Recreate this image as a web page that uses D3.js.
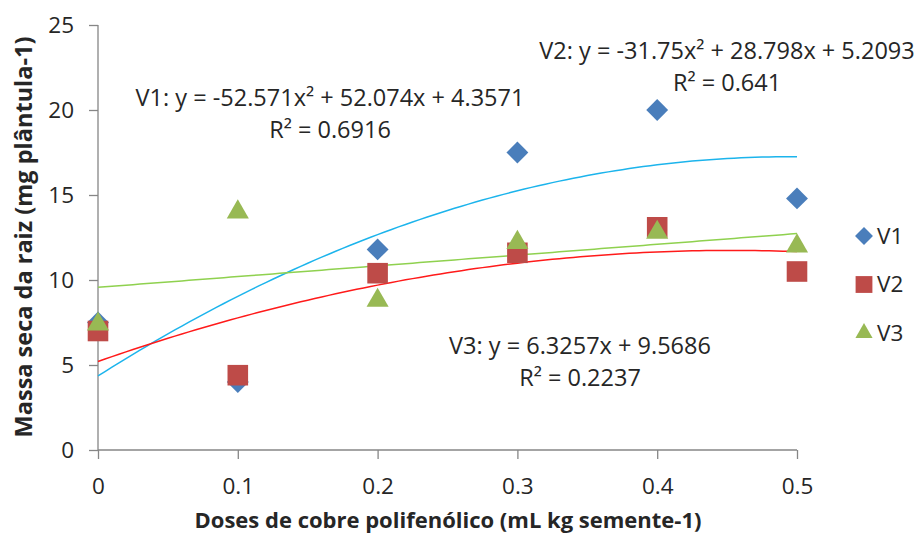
<!DOCTYPE html>
<html>
<head>
<meta charset="utf-8">
<script src="https://cdn.jsdelivr.net/npm/d3@7"></script>
<style>
  body { margin: 0; background: #fff; }
  svg text { font-family: "Open Sans", sans-serif; fill: #262626; }
</style>
</head>
<body>
<svg id="chart" width="920" height="536"></svg>
<script>
const doses = [0, 0.1, 0.2, 0.3, 0.4, 0.5]
const v1 = [7.5, 4.0, 11.8, 17.5, 20.0, 14.8]
const v2 = [7.0, 4.4, 10.4, 11.6, 13.1, 10.5]
const v3 = [7.4, 14.0, 8.8, 12.2, 12.8, 12.0]
const seriesNames = ['V1', 'V2', 'V3']
// trend coefficients [a, b, c] for y = a*x^2 + b*x + c
const fit1 = [-52.571, 52.074, 4.3571]
const fit2 = [-31.75, 28.798, 5.2093]
const fit3 = [0, 6.3257, 9.5686]
const xTicks = [0, 0.1, 0.2, 0.3, 0.4, 0.5]
const yTicks = [0, 5, 10, 15, 20, 25]

const svg = d3.select('#chart')
const m = { left: 98, top: 25, right: 123, bottom: 86 }
const w = 920 - m.left - m.right
const h = 536 - m.top - m.bottom

const x = d3.scaleLinear().domain([0, 0.5]).range([m.left, m.left + w])
const y = d3.scaleLinear().domain([0, 25]).range([m.top + h, m.top])

const axisColor = '#868686'

const xAxis = d3.axisBottom(x).tickValues(xTicks).tickSize(9).tickPadding(19)
  .tickFormat(d => d === 0 ? '0' : d3.format('.1f')(d))
const yAxis = d3.axisLeft(y).tickValues(yTicks).tickSize(9).tickPadding(15)

const gx = svg.append('g').attr('transform', `translate(0,${m.top + h})`).call(xAxis)
const gy = svg.append('g').attr('transform', `translate(${m.left},0)`).call(yAxis)
;[gx, gy].forEach(g => {
  g.selectAll('path, line').attr('stroke', axisColor).attr('stroke-width', 1.3)
  g.selectAll('text').style('font-size', '22.5px').attr('fill', '#262626')
})
gx.select('.domain').attr('d', `M${x(0)},0H${x(0.5)}`)
gy.select('.domain').attr('d', `M0,${y(0)}V${y(25)}`)

// axis titles
svg.append('text')
  .attr('x', 448).attr('y', 528)
  .attr('text-anchor', 'middle')
  .style('font-size', '22px').style('font-weight', 'bold')
  .text('Doses de cobre polifenólico (mL kg semente-1)')
svg.append('text')
  .attr('transform', 'translate(32,237) rotate(-90)')
  .attr('text-anchor', 'middle')
  .style('font-size', '23.5px').style('font-weight', 'bold')
  .text('Massa seca da raiz (mg plântula-1)')

// trend lines
const xs = d3.range(0, 0.5001, 0.005)
const trend = (c, color) => {
  const line = d3.line()
    .x(d => x(d))
    .y(d => y(c[0] * d * d + c[1] * d + c[2]))
  svg.append('path')
    .attr('d', line(xs))
    .attr('fill', 'none')
    .attr('stroke', color)
    .attr('stroke-width', 1.5)
}
trend(fit1, '#1cb4ec')
trend(fit2, '#ff1a1a')
trend(fit3, '#8fd14f')

const colors = ['#4a7ebb', '#be4b48', '#98b954']
const symbols = [d3.symbolDiamond2, d3.symbolSquare2, d3.symbolTriangle2]
const sizes = [305, 540, 350]
const legendSizes = [205, 360, 210]
const allSeries = [v1, v2, v3]

allSeries.forEach((vals, i) => {
  svg.append('g').selectAll('path')
    .data(vals)
    .join('path')
    .attr('transform', (d, j) => `translate(${x(doses[j])},${y(d)})`)
    .attr('d', d3.symbol().type(symbols[i]).size(sizes[i]))
    .attr('fill', colors[i])
})

// legend
const legend = svg.append('g')
seriesNames.forEach((name, i) => {
  const ly = 236 + i * 48.5
  legend.append('path')
    .attr('transform', `translate(864,${ly})`)
    .attr('d', d3.symbol().type(symbols[i]).size(legendSizes[i]))
    .attr('fill', colors[i])
  legend.append('text')
    .attr('x', 877).attr('y', ly)
    .attr('dy', '0.35em')
    .style('font-size', '22.5px')
    .text(name)
})

// equation labels
const labels = [
  { cx: 330, cy: 98, eq: 'V1: y = -52.571x² + 52.074x + 4.3571', r2: 'R² = 0.6916' },
  { cx: 727, cy: 51, eq: 'V2: y = -31.75x² + 28.798x + 5.2093', r2: 'R² = 0.641' },
  { cx: 580, cy: 346, eq: 'V3: y = 6.3257x + 9.5686', r2: 'R² = 0.2237' }
]
labels.forEach(l => {
  const t = svg.append('text')
    .attr('text-anchor', 'middle')
    .style('font-size', '23.5px')
  t.append('tspan').attr('x', l.cx).attr('y', l.cy).attr('dy', '0.35em').text(l.eq)
  t.append('tspan').attr('x', l.cx).attr('y', l.cy + 31.5).attr('dy', '0.35em').text(l.r2)
})
</script>
</body>
</html>
